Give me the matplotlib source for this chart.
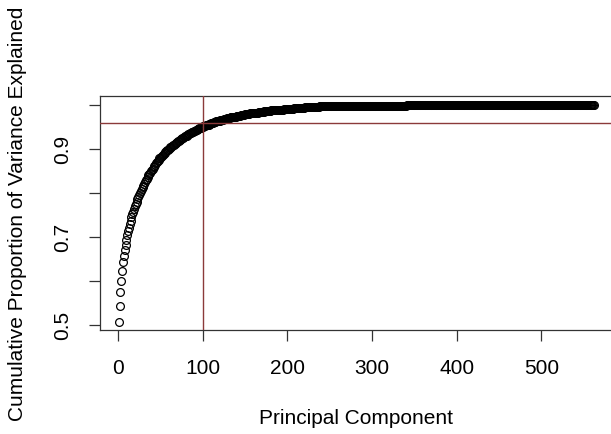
import matplotlib
matplotlib.use('Agg')
import matplotlib.pyplot as plt
import numpy as np

plt.rcParams['font.family'] = ['Liberation Sans', 'DejaVu Sans']

# cumulative proportion of variance (PC 1..240)
cum_var_head = [
    0.507, 0.543, 0.574, 0.599, 0.622, 0.642, 0.657, 0.670, 0.682, 0.693,
    0.703, 0.713, 0.721, 0.729, 0.737, 0.744, 0.751, 0.757, 0.763, 0.769,
    0.775, 0.780, 0.785, 0.790, 0.795, 0.800, 0.804, 0.808, 0.812, 0.816,
    0.820, 0.824, 0.828, 0.832, 0.836, 0.840, 0.843, 0.846, 0.849, 0.852,
    0.855, 0.858, 0.861, 0.864, 0.867, 0.870, 0.873, 0.875, 0.878, 0.880,
    0.882, 0.884, 0.886, 0.888, 0.890, 0.892, 0.894, 0.896, 0.898, 0.900,
    0.902, 0.903, 0.905, 0.906, 0.908, 0.909, 0.911, 0.912, 0.914, 0.915,
    0.917, 0.918, 0.920, 0.921, 0.922, 0.924, 0.925, 0.926, 0.928, 0.929,
    0.930, 0.932, 0.933, 0.934, 0.935, 0.936, 0.937, 0.938, 0.939, 0.940,
    0.941, 0.942, 0.943, 0.944, 0.945, 0.946, 0.947, 0.948, 0.949, 0.950,
    0.951, 0.952, 0.952, 0.953, 0.954, 0.955, 0.955, 0.956, 0.957, 0.958,
    0.958, 0.959, 0.960, 0.960, 0.961, 0.962, 0.962, 0.963, 0.963, 0.964,
    0.965, 0.965, 0.966, 0.966, 0.967, 0.967, 0.968, 0.968, 0.969, 0.969,
    0.970, 0.970, 0.971, 0.971, 0.972, 0.972, 0.973, 0.973, 0.973, 0.974,
    0.974, 0.975, 0.975, 0.975, 0.976, 0.976, 0.977, 0.977, 0.977, 0.978,
    0.978, 0.978, 0.979, 0.979, 0.979, 0.980, 0.980, 0.980, 0.981, 0.981,
    0.981, 0.982, 0.982, 0.982, 0.982, 0.983, 0.983, 0.983, 0.984, 0.984,
    0.984, 0.984, 0.985, 0.985, 0.985, 0.985, 0.986, 0.986, 0.986, 0.986,
    0.987, 0.987, 0.987, 0.987, 0.987, 0.988, 0.988, 0.988, 0.988, 0.988,
    0.989, 0.989, 0.989, 0.989, 0.989, 0.990, 0.990, 0.990, 0.990, 0.990,
    0.990, 0.991, 0.991, 0.991, 0.991, 0.991, 0.991, 0.992, 0.992, 0.992,
    0.992, 0.992, 0.992, 0.993, 0.993, 0.993, 0.993, 0.993, 0.993, 0.993,
    0.994, 0.994, 0.994, 0.994, 0.994, 0.994, 0.994, 0.994, 0.995, 0.995,
    0.995, 0.995, 0.995, 0.995, 0.995, 0.995, 0.995, 0.996, 0.996, 0.996,
]

# the flat part (PC 241..562)
cum_var_tail = [
    0.996, 0.996, 0.996, 0.996, 0.996, 0.996, 0.996, 0.996, 0.996, 0.996,
    0.996, 0.996, 0.996, 0.996, 0.997, 0.997, 0.997, 0.997, 0.997, 0.997,
    0.997, 0.997, 0.997, 0.997, 0.997, 0.997, 0.997, 0.997, 0.997, 0.997,
    0.997, 0.997, 0.997, 0.997, 0.997, 0.997, 0.997, 0.997, 0.997, 0.997,
    0.998, 0.998, 0.998, 0.998, 0.998, 0.998, 0.998, 0.998, 0.998, 0.998,
    0.998, 0.998, 0.998, 0.998, 0.998, 0.998, 0.998, 0.998, 0.998, 0.998,
    0.998, 0.998, 0.998, 0.998, 0.998, 0.998, 0.998, 0.998, 0.998, 0.998,
    0.998, 0.998, 0.998, 0.998, 0.998, 0.998, 0.998, 0.998, 0.998, 0.998,
    0.998, 0.998, 0.998, 0.998, 0.998, 0.998, 0.998, 0.998, 0.998, 0.998,
    0.998, 0.998, 0.998, 0.998, 0.998, 0.998, 0.998, 0.998, 0.998, 0.998,
    0.999, 0.999, 0.999, 0.999, 0.999, 0.999, 0.999, 0.999, 0.999, 0.999,
    0.999, 0.999, 0.999, 0.999, 0.999, 0.999, 0.999, 0.999, 0.999, 0.999,
    0.999, 0.999, 0.999, 0.999, 0.999, 0.999, 0.999, 0.999, 0.999, 0.999,
    0.999, 0.999, 0.999, 0.999, 0.999, 0.999, 0.999, 0.999, 0.999, 0.999,
    0.999, 0.999, 0.999, 0.999, 0.999, 0.999, 0.999, 0.999, 0.999, 0.999,
    0.999, 0.999, 0.999, 0.999, 0.999, 0.999, 0.999, 0.999, 0.999, 0.999,
    0.999, 0.999, 0.999, 0.999, 0.999, 0.999, 0.999, 0.999, 0.999, 0.999,
    0.999, 0.999, 0.999, 0.999, 0.999, 0.999, 0.999, 0.999, 0.999, 0.999,
    1.000, 1.000, 1.000, 1.000, 1.000, 1.000, 1.000, 1.000, 1.000, 1.000,
    1.000, 1.000, 1.000, 1.000, 1.000, 1.000, 1.000, 1.000, 1.000, 1.000,
    1.000, 1.000, 1.000, 1.000, 1.000, 1.000, 1.000, 1.000, 1.000, 1.000,
    1.000, 1.000, 1.000, 1.000, 1.000, 1.000, 1.000, 1.000, 1.000, 1.000,
    1.000, 1.000, 1.000, 1.000, 1.000, 1.000, 1.000, 1.000, 1.000, 1.000,
    1.000, 1.000, 1.000, 1.000, 1.000, 1.000, 1.000, 1.000, 1.000, 1.000,
    1.000, 1.000, 1.000, 1.000, 1.000, 1.000, 1.000, 1.000, 1.000, 1.000,
    1.000, 1.000, 1.000, 1.000, 1.000, 1.000, 1.000, 1.000, 1.000, 1.000,
    1.000, 1.000, 1.000, 1.000, 1.000, 1.000, 1.000, 1.000, 1.000, 1.000,
    1.000, 1.000, 1.000, 1.000, 1.000, 1.000, 1.000, 1.000, 1.000, 1.000,
    1.000, 1.000, 1.000, 1.000, 1.000, 1.000, 1.000, 1.000, 1.000, 1.000,
    1.000, 1.000, 1.000, 1.000, 1.000, 1.000, 1.000, 1.000, 1.000, 1.000,
    1.000, 1.000, 1.000, 1.000, 1.000, 1.000, 1.000, 1.000, 1.000, 1.000,
    1.000, 1.000, 1.000, 1.000, 1.000, 1.000, 1.000, 1.000, 1.000, 1.000,
    1.000, 1.000,
]

cum_var = np.array(cum_var_head + cum_var_tail)
components = np.arange(1, len(cum_var) + 1)

cut_pc = 100
cut_var = 0.959

x_ticks = [0, 100, 200, 300, 400, 500]
y_ticks = [0.5, 0.6, 0.7, 0.8, 0.9, 1.0]
y_labels = ['0.5', '', '0.7', '', '0.9', '']

fs = 15
line_col = '#8b3a3a'

fig = plt.figure(figsize=(6.11, 4.35), dpi=100)
ax = fig.add_axes([0.1633, 0.238, 0.840, 0.539])

ax.plot(components, cum_var, linestyle='none', marker='o', markersize=5.6,
        markerfacecolor='none', markeredgecolor='black', markeredgewidth=0.9)
ax.axvline(cut_pc, color=line_col, linewidth=1.0, zorder=3)
ax.axhline(cut_var, color=line_col, linewidth=1.0, zorder=3)

# R style ranges: 4% padding on each side
xr = components.max() - components.min()
yr = cum_var.max() - cum_var.min()
ax.set_xlim(components.min() - 0.04 * xr, components.max() + 0.04 * xr)
ax.set_ylim(cum_var.min() - 0.04 * yr, cum_var.max() + 0.04 * yr)

ax.set_xticks(x_ticks)
ax.set_xticklabels([str(t) for t in x_ticks], fontsize=fs)
ax.set_yticks(y_ticks)
ax.set_yticklabels(y_labels, fontsize=fs, rotation=90, va='center')
ax.tick_params(axis='both', direction='out', length=8, width=0.9, color='#333333')
ax.tick_params(axis='x', pad=12)
ax.tick_params(axis='y', pad=12)

for s in ax.spines.values():
    s.set_linewidth(0.9)
    s.set_color('#333333')

ax.set_xlabel('Principal Component', fontsize=fs, labelpad=22)
ax.set_ylabel('Cumulative Proportion of Variance Explained', fontsize=fs, labelpad=19)

fig.savefig('out.png', dpi=100)
